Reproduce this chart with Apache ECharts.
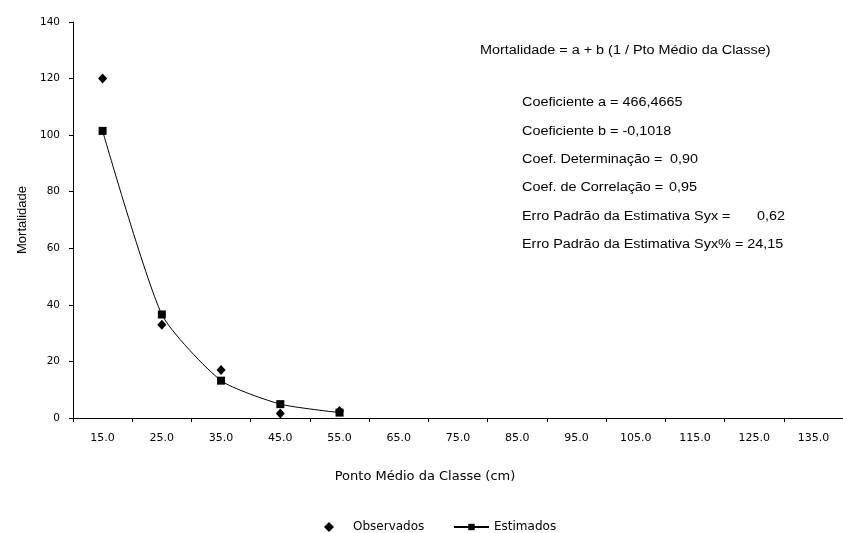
<!DOCTYPE html>
<html>
<head>
<meta charset="utf-8">
<script src="https://cdn.jsdelivr.net/npm/echarts@6/dist/echarts.min.js"></script>
<style>
  html, body { margin: 0; padding: 0; background: #fff; }
  #chart { width: 843px; height: 533px; }
</style>
</head>
<body>
<div id="chart"></div>
<script>
// Class midpoints (cm)
const classes = ['15.0', '25.0', '35.0', '45.0', '55.0', '65.0', '75.0', '85.0', '95.0', '105.0', '115.0', '125.0', '135.0'];
// Observed mortality per class
const observados = [120, 33, 17, 1.6, 2.5];
// Estimated mortality from the fitted model
const estimados = [101.5, 36.6, 13.2, 4.9, 1.9];
// Y axis ticks
const yTicks = { min: 0, max: 140, step: 20 };

// Regression summary shown on the right
const modelo = 'Mortalidade = a + b (1 / Pto Médio da Classe)';
const estatLabels = [
  'Coeficiente a = 466,4665',
  'Coeficiente b = -0,1018',
  'Coef. Determinação =',
  'Coef. de Correlação =',
  'Erro Padrão da Estimativa Syx =',
  'Erro Padrão da Estimativa Syx% = 24,15'
];
const estatValores = ['', '', '0,90', '0,95', '0,62', ''];

const chart = echarts.init(document.getElementById('chart'), null, { renderer: 'canvas' });

const textFont = 'Liberation Sans, Arial, sans-serif';
const tickFont = 'DejaVu Sans, sans-serif';

const lineY = [103, 131.5, 160, 188, 216.5, 244.5];
const valueX = [0, 0, 670, 669, 757, 0];

// Stretched Arial-like text block
function label(x, yCenter, text) {
  return {
    type: 'text', x: x, y: yCenter, scaleX: 1.2,
    style: { text: text, x: 0, y: 0, fill: '#000', font: '12px ' + textFont, verticalAlign: 'middle', align: 'left' }
  };
}

const graphics = [label(480, 51, modelo)];
estatLabels.forEach((t, i) => {
  graphics.push(label(522, lineY[i], t));
  if (estatValores[i]) graphics.push(label(valueX[i], lineY[i], estatValores[i]));
});

chart.setOption({
  backgroundColor: '#fff',
  animation: false,
  grid: { left: 73, right: -10, top: 22, bottom: 115, containLabel: false },
  xAxis: {
    type: 'category',
    data: classes,
    boundaryGap: true,
    name: 'Ponto Médio da Classe (cm)',
    nameLocation: 'middle',
    nameGap: 52,
    nameTextStyle: { color: '#000', fontFamily: tickFont, fontSize: 13, padding: [0, 66, 0, 0] },
    axisLine: { lineStyle: { color: '#000', width: 1 } },
    axisTick: { show: true, length: 4, lineStyle: { color: '#000' } },
    axisLabel: { interval: 0, margin: 15, color: '#000', fontFamily: tickFont, fontSize: 11 },
    splitLine: { show: false }
  },
  yAxis: {
    type: 'value',
    min: yTicks.min, max: yTicks.max, interval: yTicks.step,
    name: 'Mortalidade',
    nameLocation: 'middle',
    nameGap: 44,
    nameRotate: 90,
    nameTextStyle: { color: '#000', fontFamily: textFont, fontSize: 13 },
    axisLine: { show: true, lineStyle: { color: '#000', width: 1 } },
    axisTick: { show: true, length: 4, lineStyle: { color: '#000' } },
    axisLabel: { margin: 13, color: '#000', fontFamily: tickFont, fontSize: 10.5 },
    splitLine: { show: false }
  },
  legend: [
    {
      left: 319, top: 516,
      itemWidth: 10, itemHeight: 10,
      textStyle: { color: '#000', fontFamily: tickFont, fontSize: 12, padding: [0, 0, 0, 14] },
      data: [{ name: 'Observados', icon: 'diamond', itemStyle: { color: '#000', opacity: 1 } }]
    },
    {
      left: 448, top: 516,
      itemWidth: 35, itemHeight: 8,
      textStyle: { color: '#000', fontFamily: tickFont, fontSize: 12 },
      data: [{ name: 'Estimados' }]
    }
  ],
  graphic: graphics,
  series: [
    {
      name: 'Observados',
      type: 'scatter',
      data: observados,
      symbol: 'diamond',
      symbolSize: [9, 10],
      itemStyle: { color: '#000', opacity: 1 },
      z: 3
    },
    {
      name: 'Estimados',
      type: 'line',
      data: estimados,
      smooth: 0.2,
      symbol: 'rect',
      symbolSize: 8,
      showAllSymbol: true,
      lineStyle: { color: '#000', width: 1 },
      itemStyle: { color: '#000' },
      z: 2
    }
  ]
});
</script>
</body>
</html>
